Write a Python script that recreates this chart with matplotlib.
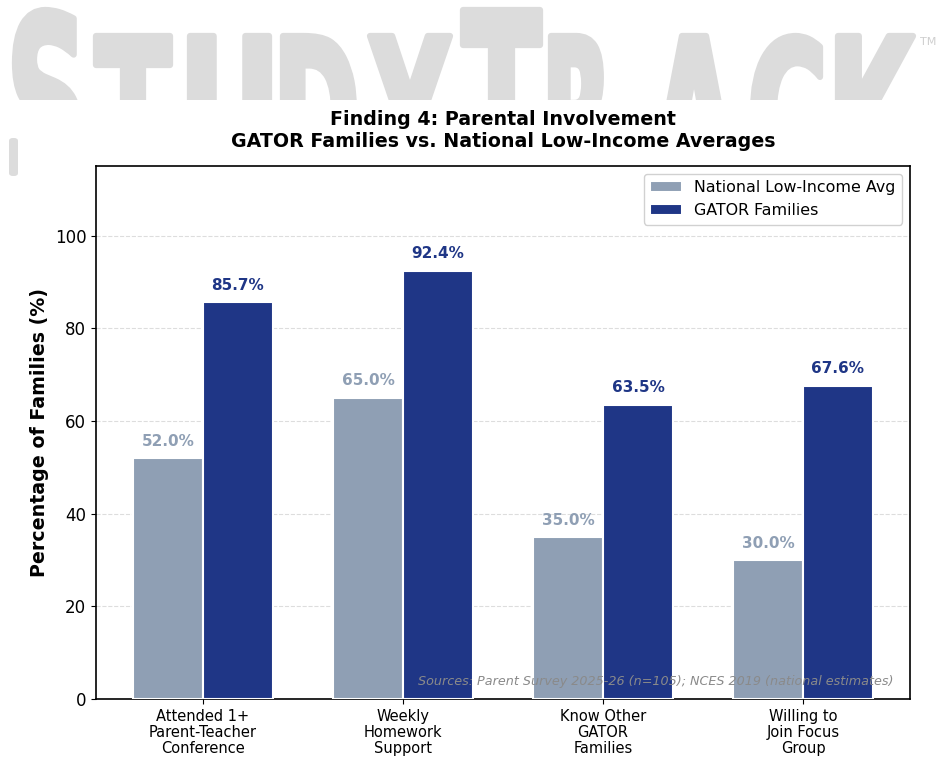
import matplotlib
matplotlib.use("Agg")
import matplotlib.pyplot as plt
import numpy as np
from matplotlib.patches import PathPatch, FancyBboxPatch
from matplotlib.textpath import TextPath
from matplotlib.font_manager import FontProperties
from matplotlib.transforms import Affine2D, Bbox, TransformedBbox

categories = ["Attended 1+\nParent-Teacher\nConference", "Weekly\nHomework\nSupport",
              "Know Other\nGATOR\nFamilies", "Willing to\nJoin Focus\nGroup"]
national = [52.0, 65.0, 35.0, 30.0]
gator = [85.7, 92.4, 63.5, 67.6]
series_names = ["National Low-Income Avg", "GATOR Families"]

GRAY = "#8f9fb4"
NAVY = "#1f3686"
W_PX, H_PX = 943, 757

fig = plt.figure(figsize=(W_PX / 100, H_PX / 100), dpi=100)
ax = fig.add_axes([96 / W_PX, 1 - 699 / H_PX, (910 - 96) / W_PX, (699 - 166) / H_PX])

# ---- StudyTrack wordmark in the page header ----
wm_color = "#dcdcdc"
wm_prop = FontProperties(family="DejaVu Sans", weight="bold")
# glyph boxes in page pixels: (char, left, right, top, baseline)
wordmark = [("S", 15, 79, 10, 187), ("T", 96, 170, 36, 187), ("U", 190, 269, 36, 187),
            ("D", 283, 354, 36, 187), ("Y", 370, 450, 36, 187), ("T", 463, 540, 10, 187),
            ("R", 551, 609, 36, 187), ("A", 653, 735, 36, 187), ("C", 753, 820, 36, 187),
            ("K", 838, 917, 36, 187)]
header_clip = TransformedBbox(Bbox.from_extents(0, 1 - 100 / H_PX, 1, 1), fig.transFigure)
for ch, x0, x1, top, base in wordmark:
    tp = TextPath((0, 0), ch, size=100, prop=wm_prop)
    ext = tp.get_extents()
    tr = (Affine2D().translate(-ext.x0, -ext.y0)
          .scale((x1 - x0) / ext.width, (base - top) / ext.height)
          .translate(x0, H_PX - base)
          .scale(1 / W_PX, 1 / H_PX))
    patch = PathPatch(tr.transform_path(tp), facecolor=wm_color, edgecolor=wm_color,
                      linewidth=4.5, joinstyle="round", transform=fig.transFigure, zorder=-3)
    patch.set_clip_box(header_clip)
    fig.patches.append(patch)
fig.text(920 / W_PX, 1 - 45 / H_PX, "TM", fontsize=8, color="#cfcfcf", ha="left",
         va="baseline", zorder=-3)
fig.patches.append(FancyBboxPatch((9 / W_PX, 1 - 176 / H_PX), 9 / W_PX, 38 / H_PX,
                                  boxstyle="round,pad=0,rounding_size=0.004",
                                  transform=fig.transFigure, facecolor=wm_color,
                                  edgecolor="none", zorder=-3))

x = np.arange(len(categories))
w = 0.35
b1 = ax.bar(x - w / 2, national, w, color=GRAY, edgecolor="white", linewidth=1.5,
            label=series_names[0], zorder=3)
b2 = ax.bar(x + w / 2, gator, w, color=NAVY, edgecolor="white", linewidth=1.5,
            label=series_names[1], zorder=3)

for rect, v in zip(b1, national):
    ax.text(rect.get_x() + rect.get_width() / 2, v + 2, f"{v:.1f}%", ha="center", va="bottom",
            fontsize=11, fontweight="bold", color=GRAY)
for rect, v in zip(b2, gator):
    ax.text(rect.get_x() + rect.get_width() / 2, v + 2, f"{v:.1f}%", ha="center", va="bottom",
            fontsize=11, fontweight="bold", color=NAVY)

ax.set_xlim(-0.535, 3.535)
ax.set_ylim(0, 115)
ax.set_yticks([0, 20, 40, 60, 80, 100])
ax.set_xticks(x)
ax.set_xticklabels(categories, fontsize=10.5, linespacing=1.1)
ax.tick_params(axis="y", labelsize=12)
ax.set_ylabel("Percentage of Families (%)", fontsize=13.7, fontweight="bold")
ax.set_title("Finding 4: Parental Involvement\nGATOR Families vs. National Low-Income Averages",
             fontsize=13.7, fontweight="bold", pad=14)
ax.yaxis.grid(True, linestyle="--", color="#dddddd", linewidth=0.8, zorder=0)
ax.set_axisbelow(True)
for s in ax.spines.values():
    s.set_linewidth(1.2)
ax.legend(loc="upper right", fontsize=11.4, frameon=True, framealpha=0.9)
ax.text(0.98, 0.02, "Sources: Parent Survey 2025-26 (n=105); NCES 2019 (national estimates)",
        transform=ax.transAxes, ha="right", va="bottom", fontsize=9.2, style="italic",
        color="#8a8a8a", zorder=5)

fig.savefig("out.png", dpi=100)
